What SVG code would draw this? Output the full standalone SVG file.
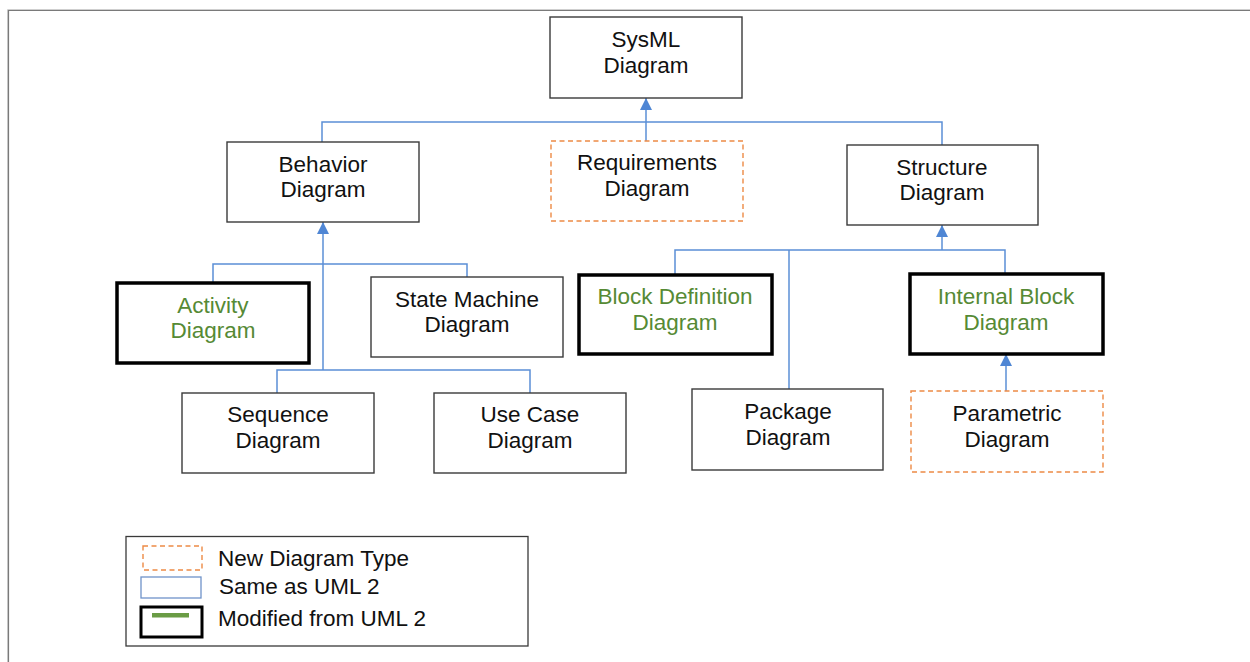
<svg xmlns="http://www.w3.org/2000/svg" width="1250" height="662" viewBox="0 0 1250 662">
  <defs>
    <marker id="tri" viewBox="0 0 12 12" refX="12" refY="6" markerWidth="12" markerHeight="12" markerUnits="userSpaceOnUse" orient="auto">
      <path d="M0,0 L12,6 L0,12 Z" fill="#4f86d4"/>
    </marker>
    <style>
      .box { fill: #ffffff; stroke: #3a3a3a; stroke-width: 1.4; }
      .mod { fill: #ffffff; stroke: #000000; stroke-width: 3.5; }
      .new { fill: #ffffff; stroke: #ed8a45; stroke-width: 1.4; stroke-dasharray: 5 3.5; }
      .lbl { font-family: "Liberation Sans", Arial, sans-serif; font-size: 22.5px; fill: #111111; text-anchor: middle; }
      .grn { fill: #568a35; }
      .leg { font-family: "Liberation Sans", Arial, sans-serif; font-size: 22.5px; fill: #111111; }
      .wire { fill: none; stroke: #5b8fd6; stroke-width: 1.5; }
    </style>
  </defs>

  <rect width="1250" height="662" fill="#ffffff"/>

  <!-- page frame -->
  <g id="frame" fill="none">
    <path d="M7.5,662 V9.5 H1250" stroke="#cfcfcf" stroke-width="1"/>
    <path d="M8.5,662 V10.5 H1250" stroke="#7a7a7a" stroke-width="1.2"/>
  </g>

  <!-- connectors -->
  <g id="connectors">
    <!-- SysML generalization tree -->
    <path class="wire" d="M322,142 V122 H942 V145"/>
    <path class="wire" d="M646,141 V98" marker-end="url(#tri)"/>
    <!-- Behavior subtree -->
    <path class="wire" d="M323,370 V222" marker-end="url(#tri)"/>
    <path class="wire" d="M213,282 V264 H467 V277"/>
    <path class="wire" d="M277,393 V370 H530 V393"/>
    <!-- Structure subtree -->
    <path class="wire" d="M942,250 V225" marker-end="url(#tri)"/>
    <path class="wire" d="M675,274 V250 H1005 V273"/>
    <path class="wire" d="M789,389 V250"/>
    <!-- Parametric to Internal Block -->
    <path class="wire" d="M1006,391 V354" marker-end="url(#tri)"/>
  </g>

  <g id="sysml">
    <rect class="box" x="550" y="17" width="192" height="81"/>
    <text class="lbl" x="646" y="47">SysML</text>
    <text class="lbl" x="646" y="73">Diagram</text>
  </g>

  <g id="behavior">
    <rect class="box" x="227" y="142" width="192" height="80"/>
    <text class="lbl" x="323" y="172">Behavior</text>
    <text class="lbl" x="323" y="197">Diagram</text>
  </g>

  <g id="requirements">
    <rect class="new" x="551" y="141" width="192" height="80"/>
    <text class="lbl" x="647" y="170">Requirements</text>
    <text class="lbl" x="647" y="196">Diagram</text>
  </g>

  <g id="structure">
    <rect class="box" x="847" y="145" width="191" height="80"/>
    <text class="lbl" x="942" y="175">Structure</text>
    <text class="lbl" x="942" y="200">Diagram</text>
  </g>

  <g id="activity">
    <rect class="mod" x="117" y="283" width="192" height="80"/>
    <text class="lbl grn" x="213" y="313">Activity</text>
    <text class="lbl grn" x="213" y="338">Diagram</text>
  </g>

  <g id="state-machine">
    <rect class="box" x="371" y="277" width="192" height="80"/>
    <text class="lbl" x="467" y="307">State Machine</text>
    <text class="lbl" x="467" y="332">Diagram</text>
  </g>

  <g id="sequence">
    <rect class="box" x="182" y="393" width="192" height="80"/>
    <text class="lbl" x="278" y="422">Sequence</text>
    <text class="lbl" x="278" y="448">Diagram</text>
  </g>

  <g id="use-case">
    <rect class="box" x="434" y="393" width="192" height="80"/>
    <text class="lbl" x="530" y="422">Use Case</text>
    <text class="lbl" x="530" y="448">Diagram</text>
  </g>

  <g id="block-definition">
    <rect class="mod" x="579" y="275" width="193" height="79"/>
    <text class="lbl grn" x="675" y="304">Block Definition</text>
    <text class="lbl grn" x="675" y="330">Diagram</text>
  </g>

  <g id="internal-block">
    <rect class="mod" x="910" y="274" width="193" height="80"/>
    <text class="lbl grn" x="1006" y="304">Internal Block</text>
    <text class="lbl grn" x="1006" y="330">Diagram</text>
  </g>

  <g id="package">
    <rect class="box" x="692" y="389" width="191" height="81"/>
    <text class="lbl" x="788" y="419">Package</text>
    <text class="lbl" x="788" y="445">Diagram</text>
  </g>

  <g id="parametric">
    <rect class="new" x="911" y="391" width="192" height="81"/>
    <text class="lbl" x="1007" y="421">Parametric</text>
    <text class="lbl" x="1007" y="447">Diagram</text>
  </g>

  <!-- key -->
  <g id="legend">
    <rect x="126" y="536.5" width="402" height="109.5" fill="#ffffff" stroke="#3a3a3a" stroke-width="1.3"/>
    <rect class="new" x="143" y="546" width="59" height="24"/>
    <rect x="141" y="577" width="60" height="21" fill="#ffffff" stroke="#6f93c9" stroke-width="1.3"/>
    <rect x="141" y="607" width="61" height="30" fill="#ffffff" stroke="#000000" stroke-width="3"/>
    <rect x="152" y="613" width="37" height="4.5" fill="#6a9c45"/>
    <text class="leg" x="218" y="566">New Diagram Type</text>
    <text class="leg" x="219" y="594">Same as UML 2</text>
    <text class="leg" x="218" y="626">Modified from UML 2</text>
  </g>
</svg>
